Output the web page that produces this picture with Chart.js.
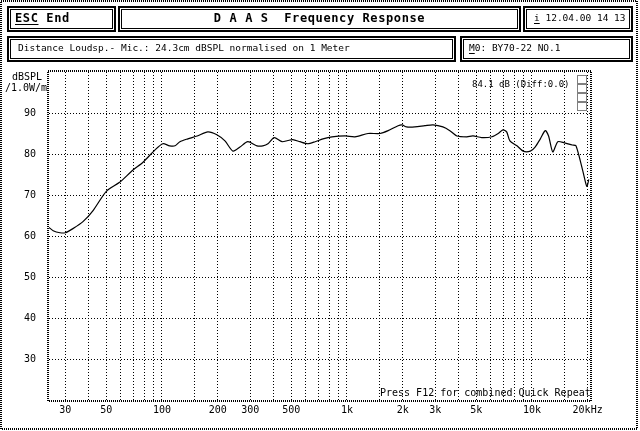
<!DOCTYPE html>
<html>
<head>
<meta charset="utf-8">
<script src="https://cdn.jsdelivr.net/npm/chart.js@4/dist/chart.umd.min.js"></script>
<style>
  body { margin: 0; background: #fff; }
  #wrap { position: relative; width: 640px; height: 431px; overflow: hidden; font-family: "DejaVu Sans Mono", monospace; color: #000; }
  canvas { position: absolute; left: 0; top: 0; }
  .box { position: absolute; box-sizing: border-box; border: 2px solid #000; box-shadow: inset 0 0 0 1px #fff, inset 0 0 0 2px #000; font-size: 9.5px; line-height: 20px; white-space: nowrap; }
  .bold { font-weight: bold; font-size: 12px; letter-spacing: 0.6px; }
  .lbl { position: absolute; font-size: 10px; white-space: nowrap; }
  u { text-underline-offset: 2px; }
</style>
</head>
<body>
<div id="wrap">
  <canvas id="chart" width="640" height="431"></canvas>
  <div class="box bold" style="left:7px;top:6px;width:109px;height:26px;padding-left:6px;"><u>ESC</u>&nbsp;End</div>
  <div class="box bold" style="left:118px;top:6px;width:403px;height:26px;text-align:center;">D A A S&nbsp;&nbsp;Frequency Response</div>
  <div class="box" style="left:523px;top:6px;width:110px;height:26px;padding-left:9px;"><u>i</u>&nbsp;12.04.00&nbsp;14 13</div>
  <div class="box" style="left:7px;top:36px;width:449px;height:26px;padding-left:9px;">Distance Loudsp.- Mic.: 24.3cm dBSPL normalised on 1 Meter</div>
  <div class="box" style="left:460px;top:36px;width:173px;height:26px;padding-left:7px;"><u>M</u>0: BY70-22 NO.1</div>
  <div class="lbl" style="left:12px;top:71px;">dBSPL</div>
  <div class="lbl" style="left:5px;top:82px;">/1.0W/m</div>
  <div class="lbl" style="left:472px;top:79px;font-size:9px;">84.1 dB (Diff:0.0)</div>
  <div class="lbl" style="left:380px;top:387px;">Press F12 for combined Quick Repeat</div>
</div>
<script>
// frequency response
const freqs = [24.5, 25.8, 28.1, 30, 33, 37.4, 42.4, 50, 59, 69.7, 79, 91.7, 101, 110, 117.6, 125, 138, 155, 177, 198, 219,
  242, 264, 291, 326, 351, 374, 404, 446, 479, 510, 557, 615, 673, 742, 830, 977, 1105, 1300, 1510, 1670, 1890, 1985, 2100,
  2330, 2640, 2920, 3300, 3600, 3930, 4450, 4800, 5350, 6080, 6570, 6970, 7300, 7600, 8300, 8960, 9800, 10400, 11100,
  11800, 12300, 12960, 13800, 15000, 16500, 17300, 18900, 19800, 20300];
const levels = [62.1, 61.3, 60.8, 60.8, 61.8, 63.5, 66.2, 70.9, 73.1, 76.1, 78, 81, 82.5, 82, 82, 83, 83.7, 84.4, 85.4, 84.7, 83.2,
  80.7, 81.7, 83, 82, 82, 82.5, 84, 83, 83.3, 83.5, 83, 82.5, 83, 83.7, 84.2, 84.4, 84.2, 85, 85, 85.7, 86.9, 87.1, 86.6,
  86.6, 86.9, 87.1, 86.6, 85.7, 84.4, 84.2, 84.4, 84, 84.2, 85, 85.9, 85.4, 83.2, 82, 80.7, 80.7, 81.7, 83.7,
  85.7, 84.4, 80.5, 83, 82.7, 82.2, 82, 75.6, 72.1, 73.8];

const gridFreqs = [30, 40, 50, 60, 70, 80, 90, 100, 150, 200, 300, 400, 500, 600, 700, 800, 900, 1000, 1500, 2000,
  3000, 4000, 5000, 6000, 7000, 8000, 9000, 10000, 15000, 20000];
const freqLabels = { 30: "30", 50: "50", 100: "100", 200: "200", 300: "300", 500: "500", 1000: "1k", 2000: "2k",
  3000: "3k", 5000: "5k", 10000: "10k", 20000: "20kHz" };
const dbTicks = [20, 30, 40, 50, 60, 70, 80, 90, 100];

const frame = {
  id: "frame",
  beforeDraw(chart) {
    const ctx = chart.ctx;
    ctx.save();
    ctx.fillStyle = "#fff";
    ctx.fillRect(0, 0, chart.width, chart.height);
    ctx.strokeStyle = "#000";
    ctx.lineWidth = 2;
    ctx.setLineDash([1, 1]);
    ctx.strokeRect(1, 1, 636, 428);
    ctx.restore();
  },
  afterDraw(chart) {
    const ctx = chart.ctx, a = chart.chartArea;
    ctx.save();
    ctx.strokeStyle = "#000";
    ctx.lineWidth = 2;
    ctx.setLineDash([1, 1]);
    ctx.strokeRect(a.left - 1, a.top - 1, a.right - a.left + 2, a.bottom - a.top + 2);
    ctx.lineWidth = 1;
    [75, 84, 93, 102].forEach(y => ctx.strokeRect(577.5, y + 0.5, 9, 8));
    ctx.restore();
  }
};

new Chart(document.getElementById("chart"), {
  type: "line",
  data: {
    datasets: [{
      data: freqs.map((f, i) => ({ x: f, y: levels[i] })),
      borderColor: "#000",
      borderWidth: 1.2,
      pointRadius: 0,
      tension: 0.25
    }]
  },
  options: {
    responsive: false,
    animation: false,
    layout: { padding: { left: 0, top: 72, right: 50, bottom: 0 } },
    plugins: { legend: { display: false }, tooltip: { enabled: false } },
    scales: {
      x: {
        type: "logarithmic",
        min: 24.5,
        max: 20600,
        afterFit: s => { s.height = 31; },
        afterBuildTicks: s => { s.ticks = gridFreqs.map(v => ({ value: v })); },
        border: { display: false, dash: [1, 2] },
        grid: { color: "#000", lineWidth: 1, drawTicks: false },
        ticks: {
          autoSkip: false,
          maxRotation: 0,
          padding: 4,
          color: "#000",
          font: { family: "DejaVu Sans Mono", size: 10 },
          callback: v => freqLabels[v] || ""
        }
      },
      y: {
        min: 20,
        max: 100,
        afterFit: s => { s.width = 49; },
        afterBuildTicks: s => { s.ticks = dbTicks.map(v => ({ value: v })); },
        border: { display: false, dash: [1, 2] },
        grid: {
          color: c => (c.tick.value === 20 || c.tick.value === 100) ? "rgba(0,0,0,0)" : "#000",
          lineWidth: 1,
          drawTicks: false
        },
        ticks: {
          padding: 13,
          color: "#000",
          font: { family: "DejaVu Sans Mono", size: 10 },
          callback: v => (v === 20 || v === 100) ? "" : String(v)
        }
      }
    }
  },
  plugins: [frame]
});
</script>
</body>
</html>
